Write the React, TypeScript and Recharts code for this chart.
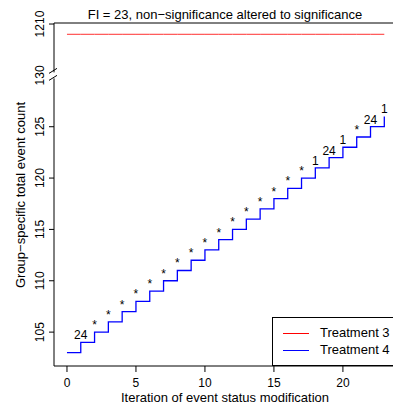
import React from 'react'
import { LineChart, Line, XAxis, YAxis, ReferenceLine, LabelList, Legend } from 'recharts'

// iteration index on the x axis
const iterations = [0, 1, 2, 3, 4, 5, 6, 7, 8, 9, 10, 11, 12, 13, 14, 15, 16, 17, 18, 19, 20, 21, 22, 23]
const treatment3 = [
  1209, 1209, 1209, 1209, 1209, 1209, 1209, 1209, 1209, 1209, 1209, 1209,
  1209, 1209, 1209, 1209, 1209, 1209, 1209, 1209, 1209, 1209, 1209, 1209
]
const treatment4 = [
  103, 104, 105, 106, 107, 108, 109, 110, 111, 112, 113, 114,
  115, 116, 117, 118, 119, 120, 121, 122, 123, 124, 125, 126
]
const stepMarks = [
  '', '24', '*', '*', '*', '*', '*', '*', '*', '*', '*', '*',
  '*', '*', '*', '*', '*', '*', '1', '24', '1', '*', '24', '1'
]
const seriesNames = ['Treatment 3', 'Treatment 4']
const xTicks = [0, 5, 10, 15, 20]
const yTicks = [105, 110, 115, 120, 125, 130, 1210]

// broken y axis: everything above 130 is shifted down so 1210 sits at 135
const GAP_START = 130
const GAP_SHIFT = 1075
const toAxis = (v: number) => (v > GAP_START ? v - GAP_SHIFT : v)

const FONT = '"Liberation Sans", Arial, Helvetica, sans-serif'
const Y_MIN = 101.7
const Y_MAX = 135.1

const data = iterations.map((x, i) => ({
  x,
  t3: toAxis(treatment3[i]),
  t4: treatment4[i],
  mark: stepMarks[i]
}))

function YTick(props: any) {
  const { x, y, payload } = props
  const v = payload.value
  const label = String(yTicks.find((t) => toAxis(t) === v) ?? v)
  const axisX = x + 10
  return (
    <g>
      {v === GAP_START ? (
        <g stroke="#000" strokeWidth={1}>
          <rect x={axisX - 2} y={y - 3} width={4} height={6} fill="#fff" stroke="none" />
          <line x1={axisX - 5} y1={y - 2} x2={axisX + 3} y2={y - 7} />
          <line x1={axisX - 5} y1={y + 5} x2={axisX + 3} y2={y} />
        </g>
      ) : (
        <line x1={axisX - 5} y1={y} x2={axisX} y2={y} stroke="#000" />
      )}
      <text
        x={x}
        y={y}
        transform={`rotate(-90 ${x} ${y})`}
        textAnchor="middle"
        fontSize={12}
        fontFamily={FONT}
        fill="#000"
      >
        {label}
      </text>
    </g>
  )
}

function LegendBox() {
  const colors = ['#ff0000', '#0000ff']
  return (
    <div
      style={{
        position: 'relative',
        width: 140,
        height: 49,
        boxSizing: 'border-box',
        border: '1px solid #000',
        background: '#fff',
        fontFamily: FONT,
        fontSize: 13
      }}
    >
      {seriesNames.map((name, i) => (
        <div key={name}>
          <div
            style={{
              position: 'absolute',
              left: 10,
              top: 15 + i * 17,
              width: 26,
              height: 0,
              borderTop: `1px solid ${colors[i]}`
            }}
          />
          <div style={{ position: 'absolute', left: 47, top: 7 + i * 17, lineHeight: '16px', color: '#000' }}>
            {name}
          </div>
        </div>
      ))}
    </div>
  )
}

export default function App() {
  return (
    <div
      style={{
        position: 'absolute',
        left: 0,
        top: 0,
        width: 393,
        height: 409,
        overflow: 'hidden',
        background: '#fff',
        fontFamily: FONT
      }}
    >
      <LineChart width={397} height={409} data={data} margin={{ top: 23, right: 0, left: 0, bottom: 0 }}>
        <XAxis
          type="number"
          dataKey="x"
          domain={[-0.94, 23.92]}
          ticks={xTicks}
          interval={0}
          height={43}
          tickSize={6}
          tickMargin={6}
          allowDataOverflow
          axisLine={{ stroke: '#000' }}
          tickLine={{ stroke: '#000' }}
          tick={{ fill: '#000', fontSize: 12, fontFamily: FONT }}
        />
        <YAxis
          type="number"
          domain={[Y_MIN, Y_MAX]}
          ticks={yTicks.map(toAxis)}
          interval={0}
          width={54}
          tickSize={5}
          tickMargin={5}
          allowDataOverflow
          axisLine={{ stroke: '#000' }}
          tickLine={false}
          tick={<YTick />}
        />
        <ReferenceLine y={Y_MAX} stroke="#000" ifOverflow="extendDomain" />
        <Line
          dataKey="t3"
          name={seriesNames[0]}
          type="linear"
          stroke="#ff3030"
          strokeWidth={1}
          dot={false}
          isAnimationActive={false}
        />
        <Line
          dataKey="t4"
          name={seriesNames[1]}
          type="stepAfter"
          stroke="#0000ff"
          strokeWidth={1.3}
          dot={false}
          isAnimationActive={false}
        >
          <LabelList dataKey="mark" position="top" offset={3} fontSize={12} fontFamily={FONT} fill="#000" />
        </Line>
        <Legend
          layout="vertical"
          align="center"
          verticalAlign="middle"
          wrapperStyle={{ position: 'absolute', left: 272, top: 317, width: 140, height: 49 }}
          content={() => <LegendBox />}
        />
      </LineChart>
      <div
        style={{
          position: 'absolute',
          left: 25,
          top: 7,
          width: 400,
          textAlign: 'center',
          fontSize: 13,
          lineHeight: '16px',
          color: '#000'
        }}
      >
        FI = 23, non−significance altered to significance
      </div>
      <div
        style={{
          position: 'absolute',
          left: 25,
          top: 390,
          width: 400,
          textAlign: 'center',
          fontSize: 13,
          lineHeight: '16px',
          color: '#000'
        }}
      >
        Iteration of event status modification
      </div>
      <div
        style={{
          position: 'absolute',
          left: 21 - 150,
          top: 195 - 8,
          width: 300,
          height: 16,
          textAlign: 'center',
          fontSize: 13,
          lineHeight: '16px',
          color: '#000',
          transform: 'rotate(-90deg)'
        }}
      >
        Group−specific total event count
      </div>
    </div>
  )
}
